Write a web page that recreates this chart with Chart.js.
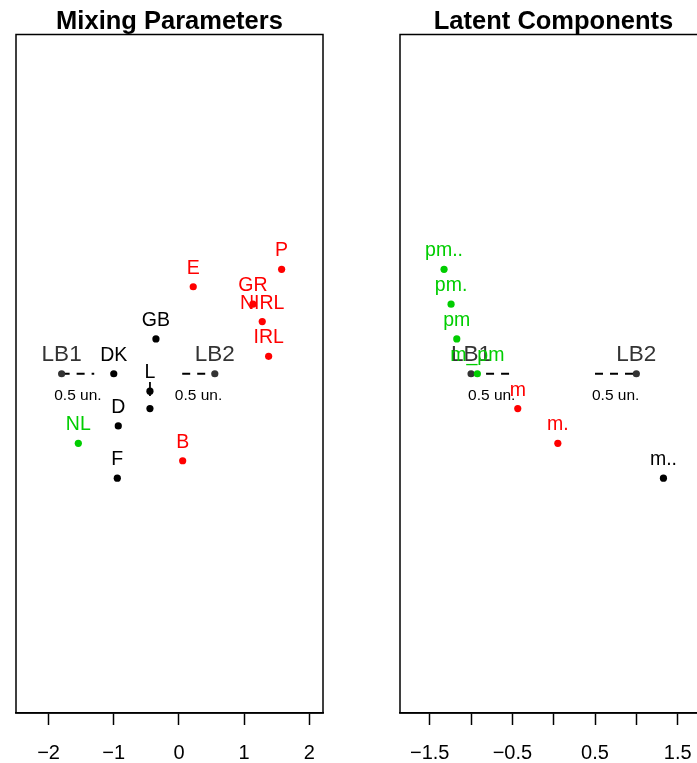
<!DOCTYPE html>
<html>
<head>
<meta charset="utf-8">
<script src="https://cdn.jsdelivr.net/npm/chart.js@4/dist/chart.umd.min.js"></script>
<style>
  html, body { margin: 0; padding: 0; background: #fff; overflow: hidden; width: 697px; height: 763px; }
  #wrap { position: relative; width: 697px; height: 763px; overflow: hidden; }
  canvas { position: absolute; top: 0; }
  #c1 { left: 0; }
  #c2 { left: 384px; }
</style>
</head>
<body>
<div id="wrap">
  <canvas id="c1" width="384" height="763"></canvas>
  <canvas id="c2" width="384" height="763"></canvas>
</div>
<script>
// ---------- Data: Mixing Parameters ----------
const mixLabels  = ["P", "E", "GR", "NIRL", "GB", "IRL", "DK", "L", "I", "D", "NL", "B", "F"];
const mixX       = [1.575, 0.219, 1.135, 1.278, -0.353, 1.376, -1.0, -0.445, -0.445, -0.931, -1.544, 0.057, -0.946];
const mixY       = [6, 5, 4, 3, 2, 1, 0, -1, -2, -3, -4, -5, -6];
const mixCluster = [2, 2, 2, 2, 1, 2, 1, 1, 1, 1, 3, 2, 1];
const mixTicks   = [-2, -1, 0, 1, 2];
const mixLB1 = -1.8, mixLB2 = 0.55;

// ---------- Data: Latent Components ----------
const latLabels  = ["pm..", "pm.", "pm", "m_pm", "m", "m.", "m.."];
const latX       = [-1.327, -1.242, -1.173, -0.924, -0.435, 0.05, 1.328];
const latY       = [6, 4, 2, 0, -2, -4, -6];
const latCluster = [3, 3, 3, 3, 2, 2, 1];
const latTicks   = [-1.5, -1, -0.5, 0, 0.5, 1, 1.5];
const latTickLabels = ["−1.5", "", "−0.5", "", "0.5", "", "1.5"];
const latLB1 = -1.0, latLB2 = 1.0;

const scaleUnit = 0.5; // "0.5 un." reference bar length

// ---------- Styles ----------
const clusterColors = { 1: "#000000", 2: "#FF0000", 3: "#00CD00" };
const FONT = "'Liberation Sans', Arial, Helvetica, sans-serif";
const anchorColor = "#333333";

const boxPlugin = {
  id: 'boxPlugin',
  afterDraw(chart) {
    const { ctx, chartArea: a } = chart;
    ctx.save();
    ctx.strokeStyle = '#000';
    ctx.lineWidth = 1.5;
    ctx.strokeRect(a.left, a.top, a.right - a.left, a.bottom - a.top);
    ctx.restore();
  }
};

const labelPlugin = {
  id: 'labelPlugin',
  afterDatasetsDraw(chart) {
    const { ctx } = chart;
    const xs = chart.scales.x, ys = chart.scales.y;
    const opts = chart.options.plugins.labelPlugin;
    ctx.save();
    ctx.textAlign = 'center';
    ctx.textBaseline = 'alphabetic';
    // anchor labels (LB1 / LB2) and "0.5 un."
    opts.anchors.forEach(an => {
      const px = xs.getPixelForValue(an.x), py = ys.getPixelForValue(0);
      ctx.fillStyle = anchorColor;
      ctx.font = '22.5px ' + FONT;
      ctx.fillText(an.name, px, py - 13);
      const mx = xs.getPixelForValue((an.x + an.x2) / 2);
      ctx.fillStyle = '#000';
      ctx.font = '15.5px ' + FONT;
      ctx.fillText('0.5 un.', mx, py + 26);
    });
    // point labels
    ctx.font = '19.5px ' + FONT;
    opts.labels.forEach((lab, i) => {
      const px = xs.getPixelForValue(opts.xs[i]);
      const py = ys.getPixelForValue(opts.ys[i]);
      ctx.fillStyle = clusterColors[opts.clusters[i]];
      ctx.fillText(lab, px, py - 13);
    });
    ctx.restore();
  }
};

function makeChart(id, title, labels, xs, ys, clusters, xmin, xmax, step, tickFmt, lb1, lb2) {
  const pts = xs.map((x, i) => ({ x: x, y: ys[i] }));
  const anchors = [
    { name: 'LB1', x: lb1, x2: lb1 + scaleUnit },
    { name: 'LB2', x: lb2, x2: lb2 - scaleUnit }
  ];
  return new Chart(document.getElementById(id), {
    type: 'scatter',
    data: {
      datasets: [
        {
          data: pts,
          pointRadius: 3.6,
          pointHoverRadius: 3.6,
          pointBackgroundColor: clusters.map(c => clusterColors[c]),
          pointBorderWidth: 0,
          showLine: false
        },
        {
          data: [{ x: anchors[0].x, y: 0 }, { x: anchors[0].x2, y: 0 }],
          showLine: true, borderColor: '#000', borderWidth: 2, borderDash: [8, 7],
          pointRadius: [3.6, 0], pointBackgroundColor: anchorColor, pointBorderWidth: 0
        },
        {
          data: [{ x: anchors[1].x2, y: 0 }, { x: anchors[1].x, y: 0 }],
          showLine: true, borderColor: '#000', borderWidth: 2, borderDash: [8, 7],
          pointRadius: [0, 3.6], pointBackgroundColor: anchorColor, pointBorderWidth: 0
        }
      ]
    },
    options: {
      responsive: false,
      animation: false,
      devicePixelRatio: 1,
      layout: { padding: { left: 16, right: 61, top: 0, bottom: 0 } },
      plugins: {
        legend: { display: false },
        tooltip: { enabled: false },
        title: {
          display: true,
          text: title,
          fullSize: false,
          color: '#000',
          font: { family: FONT, size: 25.5, weight: 'bold', lineHeight: 1 },
          padding: { top: 9, bottom: 0 }
        },
        labelPlugin: { labels: labels, xs: xs, ys: ys, clusters: clusters, anchors: anchors }
      },
      scales: {
        x: {
          type: 'linear',
          min: xmin, max: xmax,
          afterFit(scale) { scale.height = 50; },
          border: { display: true, color: '#000', width: 1.5 },
          grid: { display: true, drawOnChartArea: false, drawTicks: true, tickLength: 12, tickColor: '#000', tickWidth: 1.5 },
          ticks: {
            stepSize: step,
            includeBounds: false,
            autoSkip: false,
            maxRotation: 0,
            color: '#000',
            padding: 16,
            font: { family: FONT, size: 20 },
            callback: tickFmt
          }
        },
        y: {
          type: 'linear',
          display: false,
          min: -19.5, max: 19.5
        }
      }
    },
    plugins: [boxPlugin, labelPlugin]
  });
}

const mixFmt = function (v) {
  const i = mixTicks.findIndex(t => Math.abs(t - v) < 1e-6);
  return i < 0 ? '' : String(mixTicks[i]).replace('-', '−');
};
const latFmt = function (v) {
  const i = latTicks.findIndex(t => Math.abs(t - v) < 1e-6);
  return i < 0 ? '' : latTickLabels[i];
};

makeChart('c1', 'Mixing Parameters', mixLabels, mixX, mixY, mixCluster, -2.5, 2.21, 1, mixFmt, mixLB1, mixLB2);
makeChart('c2', 'Latent Components', latLabels, latX, latY, latCluster, -1.86, 1.855, 0.5, latFmt, latLB1, latLB2);
</script>
</body>
</html>
